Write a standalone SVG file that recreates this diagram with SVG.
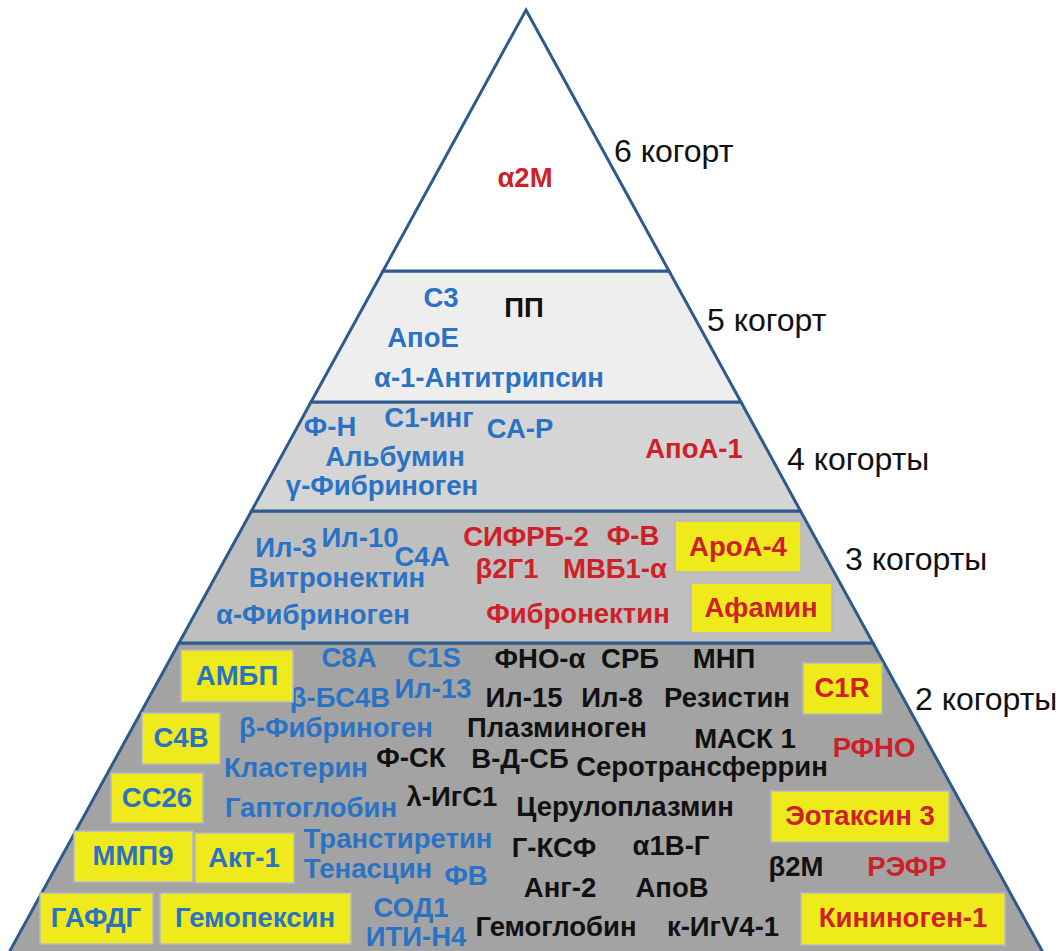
<svg xmlns="http://www.w3.org/2000/svg" width="1064" height="951" viewBox="0 0 1064 951">
<style>
.tier{stroke:#2d5b8c;stroke-width:3;stroke-linejoin:miter}
text{font-family:"Liberation Sans",Arial,sans-serif;font-weight:bold;font-size:27.5px;text-anchor:middle}
.b{fill:#2a72c4}
.r{fill:#cf2027}
.k{fill:#111111}
.lbl{font-weight:normal;font-size:32px;fill:#111111;text-anchor:start}
.box{fill:#eeea1c;stroke:#b4b8c6;stroke-width:1.5}
</style>
<rect width="1064" height="951" fill="#ffffff"/>
<g id="tier2">
<polygon class="tier" points="179,643 873,643 1046,958 6,958" fill="#a3a3a3"/>
</g>
<g id="tier3">
<polygon class="tier" points="251.5,511 800.5,511 873,643 179,643" fill="#bfbfbf"/>
</g>
<g id="tier4">
<polygon class="tier" points="311,402 741,402 800.5,511 251.5,511" fill="#d5d5d5"/>
</g>
<g id="tier5">
<polygon class="tier" points="383,271 669,271 741,402 311,402" fill="#eeeeee"/>
</g>
<g id="tier6">
<polygon class="tier" points="526,10 669,271 383,271" fill="#ffffff"/>
<text class="r" x="525" y="187">α2М</text>
</g>
<g id="labels">
<text class="lbl" x="614" y="162">6 когорт</text>
<text class="lbl" x="707" y="331">5 когорт</text>
<text class="lbl" x="787" y="470">4 когорты</text>
<text class="lbl" x="845" y="570">3 когорты</text>
<text class="lbl" x="915" y="710">2 когорты</text>
</g>
<g id="tier5-text">
<text class="b" x="441" y="307">С3</text>
<text class="k" x="524" y="317">ПП</text>
<text class="b" x="423" y="347">АпоЕ</text>
<text class="b" x="489" y="387">α-1-Антитрипсин</text>
</g>
<g id="tier4-text">
<text class="b" x="330" y="436">Ф-Н</text>
<text class="b" x="429" y="427">С1-инг</text>
<text class="b" x="520" y="438">СА-Р</text>
<text class="b" x="395" y="466">Альбумин</text>
<text class="b" x="382" y="495">γ-Фибриноген</text>
<text class="r" x="694" y="458">АпоА-1</text>
</g>
<g id="tier3-text">
<text class="b" x="286" y="557">Ил-3</text>
<text class="b" x="360" y="547">Ил-10</text>
<text class="b" x="422" y="566">С4А</text>
<text class="b" x="337" y="587">Витронектин</text>
<text class="b" x="313" y="624">α-Фибриноген</text>
<text class="r" x="526" y="546">СИФРБ-2</text>
<text class="r" x="633" y="545">Ф-В</text>
<text class="r" x="507" y="578">β2Г1</text>
<text class="r" x="615" y="578">МВБ1-α</text>
<text class="r" x="578" y="623">Фибронектин</text>
</g>
<g id="box-apoa4"><rect class="box" x="675" y="521" width="126" height="51"/><text class="r" x="738" y="556">АроА-4</text></g>
<g id="box-afamin"><rect class="box" x="691" y="583" width="141" height="50"/><text class="r" x="761" y="617">Афамин</text></g>
<g id="tier2-text">
<text class="b" x="349" y="667">С8А</text>
<text class="b" x="434" y="667">С1S</text>
<text class="k" x="540" y="668">ФНО-α</text>
<text class="k" x="630" y="668">СРБ</text>
<text class="k" x="724" y="668">МНП</text>
<text class="b" x="340" y="707">β-БС4В</text>
<text class="b" x="433" y="698">Ил-13</text>
<text class="k" x="524" y="707">Ил-15</text>
<text class="k" x="612" y="707">Ил-8</text>
<text class="k" x="727" y="707">Резистин</text>
<text class="b" x="336" y="737">β-Фибриноген</text>
<text class="k" x="557" y="737">Плазминоген</text>
<text class="k" x="745" y="748">МАСК 1</text>
<text class="r" x="874" y="757">РФНО</text>
<text class="b" x="296" y="777">Кластерин</text>
<text class="k" x="411" y="767">Ф-СК</text>
<text class="k" x="520" y="768">В-Д-СБ</text>
<text class="k" x="702" y="776">Серотрансферрин</text>
<text class="b" x="311" y="817">Гаптоглобин</text>
<text class="k" x="452" y="806">λ-ИгС1</text>
<text class="k" x="625" y="816">Церулоплазмин</text>
<text class="b" x="398" y="848">Транстиретин</text>
<text class="b" x="368" y="878">Тенасцин</text>
<text class="b" x="466" y="885">ФВ</text>
<text class="k" x="554" y="857">Г-КСФ</text>
<text class="k" x="671" y="855">α1В-Г</text>
<text class="k" x="796" y="876">β2М</text>
<text class="r" x="907" y="876">РЭФР</text>
<text class="k" x="560" y="897">Анг-2</text>
<text class="k" x="672" y="897">АпоВ</text>
<text class="b" x="411" y="917">СОД1</text>
<text class="b" x="416" y="946">ИТИ-Н4</text>
<text class="k" x="556" y="936">Гемоглобин</text>
<text class="k" x="723" y="936">к-ИгV4-1</text>
</g>
<g id="box-ambp"><rect class="box" x="181" y="650" width="112" height="52"/><text class="b" x="237" y="685">АМБП</text></g>
<g id="box-c1r"><rect class="box" x="803" y="663" width="79" height="51"/><text class="r" x="842" y="697">С1R</text></g>
<g id="box-c4b"><rect class="box" x="142" y="713" width="78" height="51"/><text class="b" x="181" y="747">С4В</text></g>
<g id="box-cc26"><rect class="box" x="111" y="773" width="92" height="50"/><text class="b" x="157" y="807">СС26</text></g>
<g id="box-eotaxin"><rect class="box" x="771" y="791" width="178" height="51"/><text class="r" x="860" y="825">Эотаксин 3</text></g>
<g id="box-mmp9"><rect class="box" x="74" y="831" width="119" height="51"/><text class="b" x="133" y="865">ММП9</text></g>
<g id="box-akt1"><rect class="box" x="195" y="833" width="99" height="50"/><text class="b" x="244" y="867">Акт-1</text></g>
<g id="box-gafdg"><rect class="box" x="40" y="893" width="113" height="51"/><text class="b" x="96" y="927">ГАФДГ</text></g>
<g id="box-hemopexin"><rect class="box" x="160" y="893" width="191" height="51"/><text class="b" x="255" y="927">Гемопексин</text></g>
<g id="box-kininogen"><rect class="box" x="801" y="893" width="204" height="52"/><text class="r" x="903" y="927">Кининоген-1</text></g>
</svg>
